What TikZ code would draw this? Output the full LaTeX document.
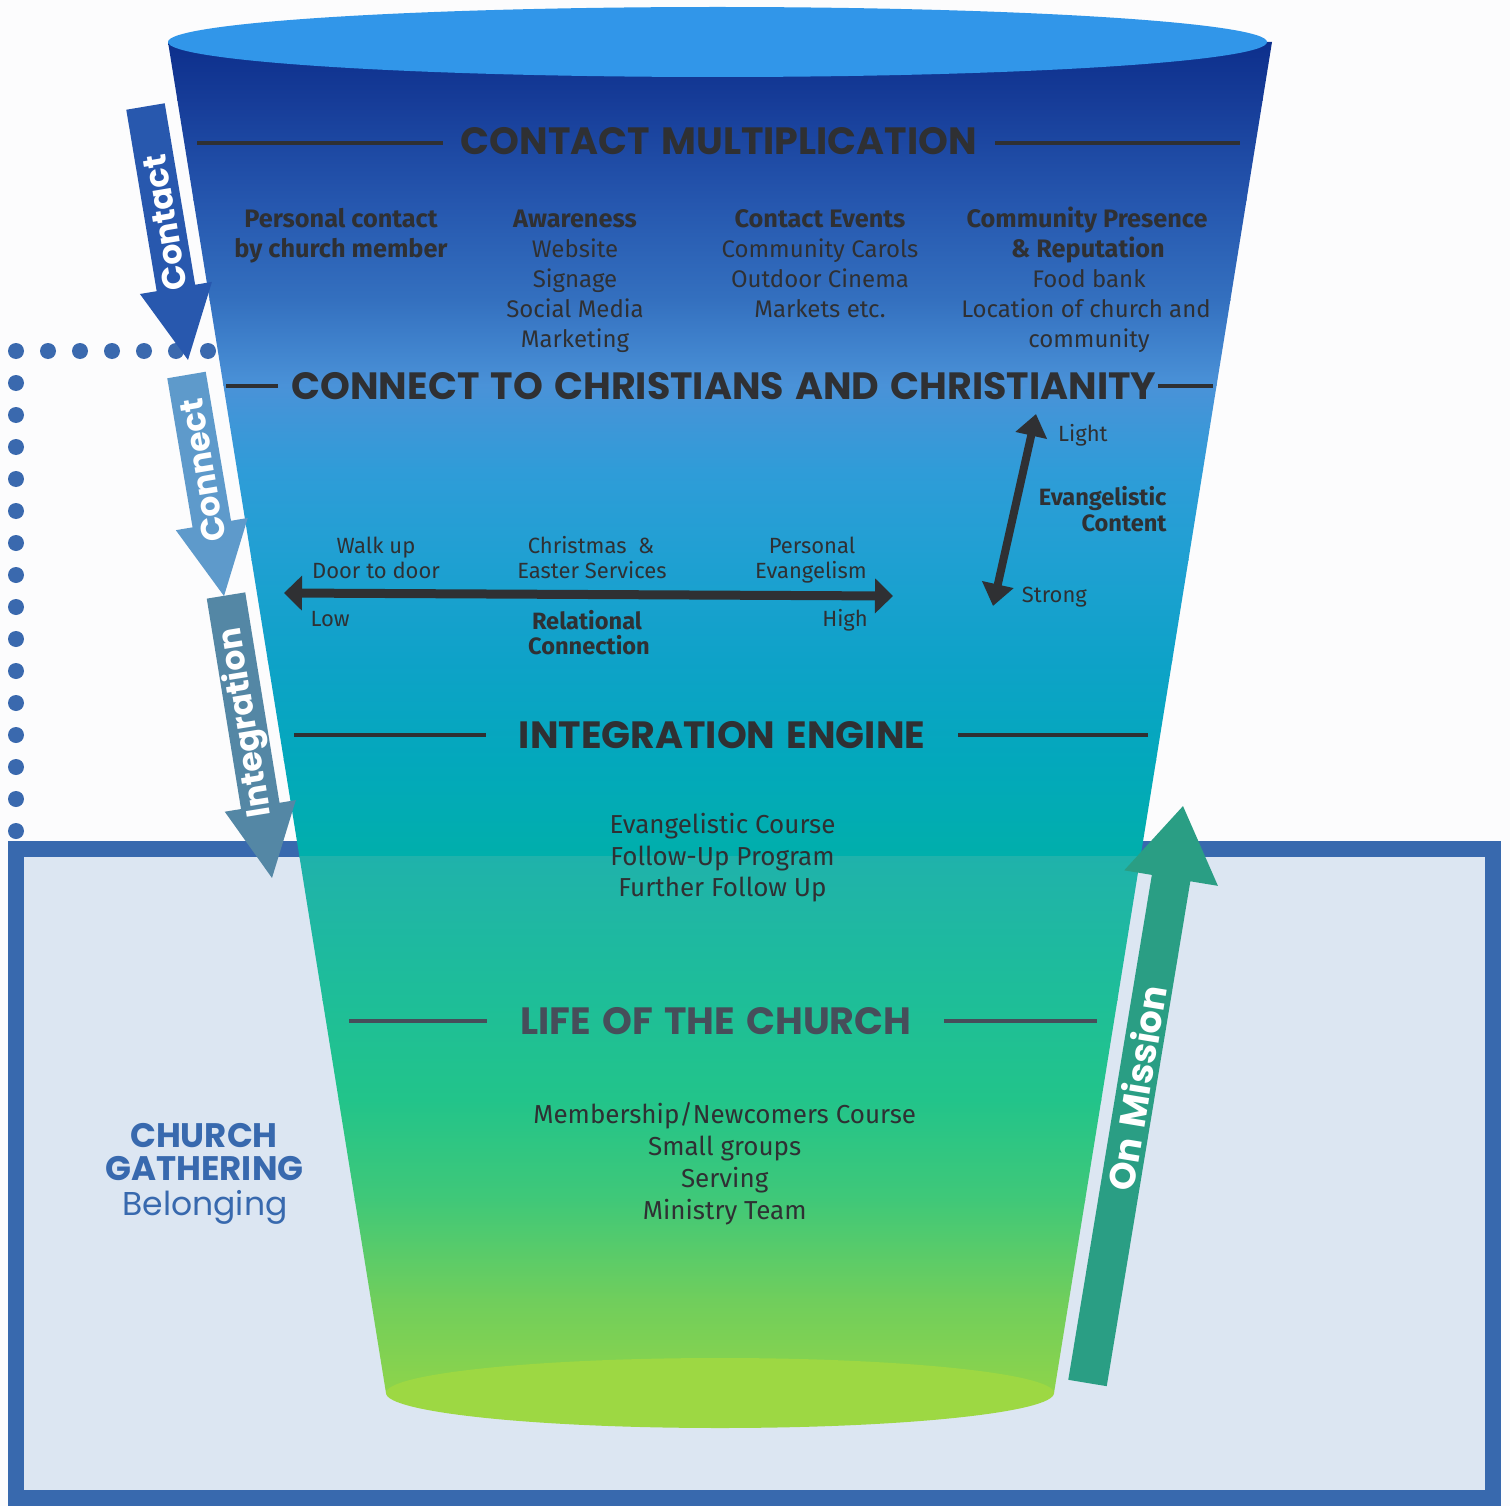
\documentclass[tikz,border=0pt]{standalone}
\usepackage{fontspec}
\setmainfont{Fira Sans}
\newfontfamily\popfont{Poppins}
\newfontfamily\pophead{Poppins}[WordSpace=1.4]
\usetikzlibrary{arrows.meta}
\definecolor{bg}{HTML}{FCFCFD}
\definecolor{frame}{HTML}{3869AE}
\definecolor{boxfill}{HTML}{DCE6F2}
\definecolor{dotc}{HTML}{3A69AE}
\definecolor{txt}{HTML}{2F3033}
\definecolor{lifec}{HTML}{464E5A}
\definecolor{topc}{HTML}{3196E9}
\definecolor{botc}{HTML}{9DD843}
\definecolor{arrA}{HTML}{2858AE}
\definecolor{arrB}{HTML}{5E9ACB}
\definecolor{arrC}{HTML}{5487A5}
\definecolor{arrD}{HTML}{2A9E84}
\definecolor{f0}{HTML}{0D2F8C}
\definecolor{f1}{HTML}{163C98}
\definecolor{f2}{HTML}{2556AE}
\definecolor{f3}{HTML}{3470BF}
\definecolor{f4}{HTML}{4A92D8}
\definecolor{f5}{HTML}{2F9CD8}
\definecolor{f6}{HTML}{1FA0D2}
\definecolor{f7}{HTML}{0EA2C8}
\definecolor{f8}{HTML}{03A8BC}
\definecolor{f9}{HTML}{00AFAB}
\definecolor{g9}{HTML}{1FB2AB}
\definecolor{f10}{HTML}{1EBE98}
\definecolor{f11}{HTML}{22C48A}
\definecolor{f12}{HTML}{40C878}
\definecolor{f13}{HTML}{70CE5C}
\definecolor{f14}{HTML}{8ED44A}
\newcommand{\flowarrow}[9]{%
  \begin{scope}[shift={#2},rotate=#3]
    \fill[#6] (0,-19.5) -- ({#4-73},-19.5) -- ({#4-73},-#5) -- (#4,0) -- ({#4-73},#5) -- ({#4-73},19.5) -- (0,19.5) -- cycle;
    \node[arrowlabel,rotate=#8] (#1) at (#7,0) {#9};
  \end{scope}}
\begin{document}
\begin{tikzpicture}[x=1pt,y=-1pt,
  body/.style={font=\fontsize{24}{30}\selectfont, text=txt, inner sep=0, anchor=base},
  bodyb/.style={font=\fontsize{25.3}{30}\selectfont\bfseries, text=txt, inner sep=0, anchor=base},
  small/.style={font=\fontsize{22}{26}\selectfont, text=txt, inner sep=0, anchor=base},
  smallb/.style={font=\fontsize{23.6}{26}\selectfont\bfseries, text=txt, inner sep=0, anchor=base},
  big/.style={font=\fontsize{26}{32}\selectfont, text=txt, inner sep=0, anchor=base},
  heading/.style={font=\pophead\bfseries\fontsize{38}{40}\selectfont, text=txt, inner sep=0},
  rule/.style={line width=4pt, draw=txt},
  arrowlabel/.style={font=\popfont\bfseries\fontsize{33}{36}\selectfont, text=white, inner sep=0},
  gather/.style={font=\popfont\bfseries\fontsize{34}{36}\selectfont, text=frame, inner sep=0, anchor=base},
  dbl/.style={draw=txt, {Triangle[length=18pt,width=34pt]}-{Triangle[length=18pt,width=34pt]}}
]
\useasboundingbox (0,0) rectangle (1510,1506);
\fill[bg] (0,0) rectangle (1510,1506);
% gathering box
\fill[frame] (8,841) rectangle (1501,1506);
\fill[boxfill] (24,857) rectangle (1485,1490);
% dotted path
\foreach \i in {0,...,6} \fill[dotc] (16+32*\i,351) circle (8pt);
\foreach \j in {0,...,14} \fill[dotc] (16,383+32*\j) circle (8pt);
% funnel body
\begin{scope}
  \clip (168,42) -- (1272,42) -- (1054,1393) -- (386,1393) -- cycle;
  \foreach \ya/\yb/\ca/\cb in {42/100/f0/f1, 100/200/f1/f2, 200/300/f2/f3, 300/385/f3/f4,
      385/470/f4/f5, 470/560/f5/f6, 560/660/f6/f7, 660/760/f7/f8, 760/857/f8/f9,
      857/1000/g9/f10, 1000/1100/f10/f11, 1100/1200/f11/f12, 1200/1300/f12/f13, 1300/1394/f13/f14}
    \shade[top color=\ca, bottom color=\cb] (150,\ya-0.5) rectangle (1290,\yb+0.5);
\end{scope}
\fill[topc] (717.5,42) ellipse [x radius=549.5pt, y radius=35pt];
\fill[botc] (720,1393) ellipse [x radius=334pt, y radius=35pt];

% headings
\node[heading] (h1) at (719,141) {CONTACT MULTIPLICATION};
\draw[rule] (197,143) -- (443,143);
\draw[rule] (995,143) -- (1240,143);
\node[heading] (h2) at (724,386) {CONNECT TO CHRISTIANS AND CHRISTIANITY};
\draw[rule] (226,386) -- (278,386);
\draw[rule] (1158,386) -- (1213,386);
\node[heading] (h3) at (722,735) {INTEGRATION ENGINE};
\draw[rule] (294,735) -- (486,735);
\draw[rule] (958,735) -- (1148,735);
\node[heading, text=lifec] (h4) at (716,1021) {LIFE OF THE CHURCH};
\draw[rule, draw=lifec] (349,1021) -- (487,1021);
\draw[rule, draw=lifec] (944,1021) -- (1097,1021);

% contact multiplication columns
\node[bodyb] (pc1) at (341,227.5) {Personal contact};
\node[bodyb] (pc2) at (341,257.5) {by church member};
\node[bodyb] (aw0) at (575,227.5) {Awareness};
\node[body] (aw1) at (575,257.5) {Website};
\node[body] (aw2) at (575,287.5) {Signage};
\node[body] (aw3) at (575,317.5) {Social Media};
\node[body] (aw4) at (575,347.5) {Marketing};
\node[bodyb] (ce0) at (820,227.5) {Contact Events};
\node[body] (ce1) at (820,257.5) {Community Carols};
\node[body] (ce2) at (820,287.5) {Outdoor Cinema};
\node[body] (ce3) at (820,317.5) {Markets etc.};
\node[bodyb] (cp0) at (1087,227.5) {Community Presence};
\node[bodyb] (cp1) at (1088,257.5) {\& Reputation};
\node[body] (cp2) at (1089,287.5) {Food bank};
\node[body] (cp3) at (1086,317.5) {Location of church and};
\node[body] (cp4) at (1089,347.5) {community};

% relational connection scale
\coordinate (rlow) at (284,593);
\coordinate (rhigh) at (893,596);
\draw[dbl, line width=9pt] (rlow) -- (rhigh);
\node[small] (r1a) at (376,553.3) {Walk up};
\node[small] (r1b) at (376,578.3) {Door to door};
\node[small] (r2a) at (591,553.3) {Christmas \ \&};
\node[small] (r2b) at (592,578.3) {Easter Services};
\node[small] (r3a) at (812,553.3) {Personal};
\node[small] (r3b) at (811,578.3) {Evangelism};
\node[small, anchor=base west] (low) at (310.5,626.7) {Low};
\node[small, anchor=base east] (high) at (868,626.7) {High};
\node[smallb] (rc1) at (587,629.3) {Relational};
\node[smallb] (rc2) at (589,654.3) {Connection};

% evangelistic content scale
\coordinate (evtop) at (1036,414);
\coordinate (evbot) at (993,606);
\draw[draw=txt, line width=8pt, {Triangle[length=22pt,width=31pt]}-{Triangle[length=22pt,width=31pt]}] (evbot) -- (evtop);
\node[small, anchor=base west] (light) at (1058,441.7) {Light};
\node[smallb, anchor=base east] (ev1) at (1166.7,505) {Evangelistic};
\node[smallb, anchor=base east] (ev2) at (1166.7,531) {Content};
\node[small, anchor=base west] (strong) at (1021.7,602.7) {Strong};

% integration engine items
\node[big] (ie1) at (722.5,833.3) {Evangelistic Course};
\node[big] (ie2) at (722.5,865) {Follow-Up Program};
\node[big] (ie3) at (722.5,896.7) {Further Follow Up};

% life of the church items
\node[big] (lc1) at (724.7,1123.3) {Membership/Newcomers Course};
\node[big] (lc2) at (724.7,1155.3) {Small groups};
\node[big] (lc3) at (724.7,1187.3) {Serving};
\node[big] (lc4) at (724.7,1219.3) {Ministry Team};

% church gathering label
\node[gather] (cg1) at (204,1147.3) {CHURCH};
\node[gather] (cg2) at (204.5,1180.7) {GATHERING};
\node[gather, font=\popfont\fontsize{33}{36}\selectfont] (cg3) at (205,1215) {Belonging};

% flow arrows
\flowarrow{contactlbl}{(145.5,106.5)}{-80.48}{257}{36.5}{arrA}{118}{99.5}{Contact}
\flowarrow{connectlbl}{(186.5,375)}{-80.37}{224.2}{36.5}{arrB}{97}{99.6}{Connect}
\flowarrow{integrlbl}{(226,595.5)}{-80.75}{286.2}{36}{arrC}{128.7}{99.25}{Integration}
\flowarrow{missionlbl}{(1087.5,1383)}{80.6}{584.8}{47.5}{arrD}{299}{80.6}{\fontsize{36.5}{38}\selectfont On Mission}
\end{tikzpicture}
\end{document}
